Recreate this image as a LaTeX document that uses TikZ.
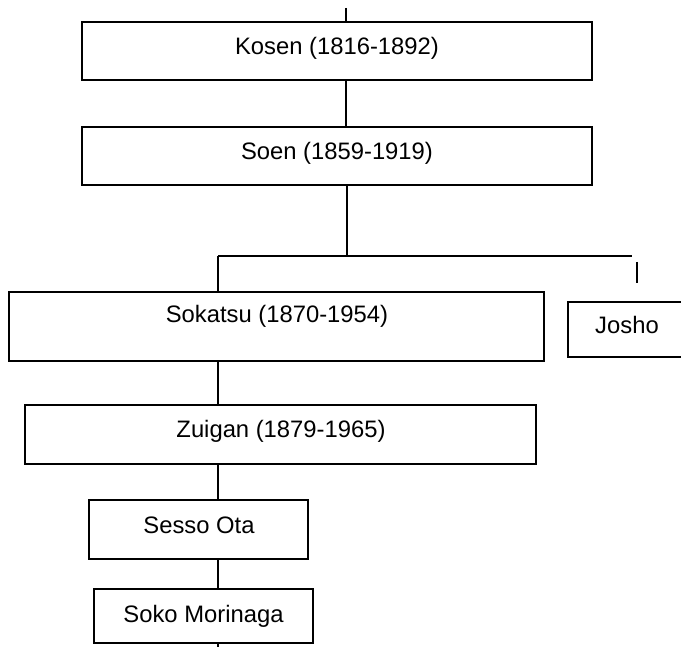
\documentclass[tikz,border=0pt]{standalone}
\usepackage{fontspec}
\setmainfont{Liberation Sans}
\begin{document}
\begin{tikzpicture}[x=1pt,y=-1pt,
  box/.style={draw=black, line width=1.8pt, rectangle, inner sep=0pt, outer sep=0pt, fill=white},
  txt/.style={anchor=base, inner sep=0pt, font=\fontsize{23.8}{28}\selectfont},
  conn/.style={draw=black, line width=1.8pt}]
\useasboundingbox (0,0) rectangle (681,647);
\clip (0,0) rectangle (681,647);
% boxes
\node[box, minimum width=510pt, minimum height=58pt] (kosen) at (337,51) {};
\node[box, minimum width=510pt, minimum height=58pt] (soen) at (337,156) {};
\node[box, minimum width=535pt, minimum height=69pt] (sokatsu) at (276.5,326.5) {};
\node[box, minimum width=122pt, minimum height=55pt] (josho) at (629,329.5) {};
\node[box, minimum width=511pt, minimum height=59pt] (zuigan) at (280.5,434.5) {};
\node[box, minimum width=219pt, minimum height=59pt] (sesso) at (198.5,529.5) {};
\node[box, minimum width=219pt, minimum height=54pt] (soko) at (203.5,616) {};
% texts
\node[txt] (kosenT) at (337,55) {Kosen (1816-1892)};
\node[txt] (soenT) at (337,160) {Soen (1859-1919)};
\node[txt] (sokatsuT) at (277,323) {Sokatsu (1870-1954)};
\node[txt] (joshoT) at (627,334) {Josho};
\node[txt] (zuiganT) at (281,438) {Zuigan (1879-1965)};
\node[txt] (sessoT) at (199,533) {Sesso Ota};
\node[txt] (sokoT) at (203.5,622) {Soko Morinaga};
% connector coordinates
\coordinate (ktop) at (346,8);
\coordinate (split) at (347,256);
\coordinate (bl) at (218,256);
\coordinate (br) at (632,256);
\coordinate (js1) at (637,262);
\coordinate (js2) at (637,283);
\coordinate (bend) at (218,650);
% connectors
\draw[conn] (ktop) -- (ktop |- kosen.north);
\draw[conn] (ktop |- kosen.south) -- (ktop |- soen.north);
\draw[conn] (split |- soen.south) -- (split);
\draw[conn] (bl) -- (br);
\draw[conn] (bl) -- (bl |- sokatsu.north);
\draw[conn] (js1) -- (js2);
\draw[conn] (bl |- sokatsu.south) -- (bl |- zuigan.north);
\draw[conn] (bl |- zuigan.south) -- (bl |- sesso.north);
\draw[conn] (bl |- sesso.south) -- (bl |- soko.north);
\draw[conn] (bl |- soko.south) -- (bend);
\end{tikzpicture}
\end{document}
